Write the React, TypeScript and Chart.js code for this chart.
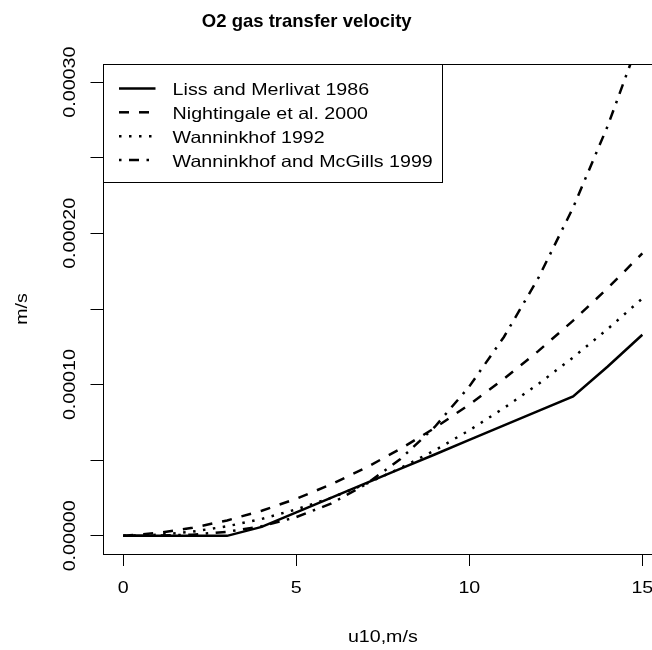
import React, { useEffect, useRef } from "react";
import { Chart, registerables } from "chart.js";

Chart.register(...registerables);

const chartTitle = "O2 gas transfer velocity";
const xAxisTitle = "u10,m/s";
const yAxisTitle = "m/s";

const windSpeed = [0, 1, 2, 3, 4, 5, 6, 7, 8, 9, 10, 11, 12, 13, 14, 15];

const lissMerlivat = [
  0, 0, 0, 0, 5.9e-6, 1.55e-5, 2.51e-5, 3.47e-5, 4.43e-5, 5.38e-5, 6.34e-5,
  7.3e-5, 8.26e-5, 9.22e-5, 1.12e-4, 1.33e-4,
];
const nightingale = [
  0, 1.9e-6, 5.3e-6, 1.02e-5, 1.66e-5, 2.45e-5, 3.4e-5, 4.49e-5, 5.74e-5,
  7.13e-5, 8.68e-5, 1.038e-4, 1.223e-4, 1.423e-4, 1.638e-4, 1.868e-4,
];
const wanninkhof92 = [
  0, 7e-7, 2.8e-6, 6.3e-6, 1.12e-5, 1.75e-5, 2.51e-5, 3.42e-5, 4.47e-5,
  5.65e-5, 6.98e-5, 8.45e-5, 1.005e-4, 1.18e-4, 1.368e-4, 1.57e-4,
];
const wanninkhofMcGills = [
  0, 1e-7, 8e-7, 2.7e-6, 6.3e-6, 1.24e-5, 2.13e-5, 3.39e-5, 5.06e-5, 7.2e-5,
  9.88e-5, 1.315e-4, 1.707e-4, 2.171e-4, 2.711e-4, 3.335e-4,
];

const seriesLabels = [
  "Liss and Merlivat 1986",
  "Nightingale et al. 2000",
  "Wanninkhof 1992",
  "Wanninkhof and McGills 1999",
];

const xTickValues = [0, 5, 10, 15];
const yTickValues = [0, 0.00005, 0.0001, 0.00015, 0.0002, 0.00025, 0.0003];
const yLabelValues = [0, 0.0001, 0.0002, 0.0003];

const FONT_FAMILY = "'Liberation Sans', Arial, Helvetica, sans-serif";
const TEXT_FONT = `16.5px ${FONT_FAMILY}`;
const TEXT_STRETCH = 1.19;

function drawText(
  ctx: CanvasRenderingContext2D,
  text: string,
  x: number,
  y: number,
  angle: number,
  font: string,
  stretch: number,
  align: CanvasTextAlign
) {
  ctx.save();
  ctx.translate(x, y);
  ctx.rotate(angle);
  ctx.scale(stretch, 1);
  ctx.font = font;
  ctx.fillStyle = "#000";
  ctx.textAlign = align;
  ctx.textBaseline = "alphabetic";
  ctx.fillText(text, 0, 0);
  ctx.restore();
}

const overlayPlugin = {
  id: "rOverlay",
  afterDraw(chart: any) {
    const { ctx, chartArea: a, scales } = chart;
    const xs = scales.x;
    const ys = scales.y;
    ctx.save();

    // plot box
    ctx.strokeStyle = "#000";
    ctx.lineWidth = 1;
    ctx.setLineDash([]);
    ctx.strokeRect(
      Math.round(a.left) + 0.5,
      Math.round(a.top) + 0.5,
      Math.round(a.right - a.left),
      Math.round(a.bottom - a.top)
    );

    // title
    drawText(ctx, chartTitle, 306.7, 26.7, 0, `bold 18.5px ${FONT_FAMILY}`, 1, "center");

    // x tick labels
    xTickValues.forEach((v) => {
      drawText(ctx, String(v), xs.getPixelForValue(v), 593, 0, TEXT_FONT, TEXT_STRETCH, "center");
    });
    // x title
    drawText(ctx, xAxisTitle, (a.left + a.right) / 2, 641.7, 0, TEXT_FONT, TEXT_STRETCH, "center");

    // y tick labels
    yLabelValues.forEach((v) => {
      drawText(ctx, v.toFixed(5), 75, ys.getPixelForValue(v), -Math.PI / 2, TEXT_FONT, TEXT_STRETCH, "center");
    });
    // y title
    drawText(ctx, yAxisTitle, 27.3, (a.top + a.bottom) / 2, -Math.PI / 2, TEXT_FONT, TEXT_STRETCH, "center");

    // legend
    const lx = Math.round(a.left) + 0.5;
    const ly = Math.round(a.top) + 0.5;
    ctx.fillStyle = "#fff";
    ctx.fillRect(lx, ly, 339, 118);
    ctx.strokeStyle = "#000";
    ctx.lineWidth = 1;
    ctx.setLineDash([]);
    ctx.strokeRect(lx, ly, 339, 118);
    chart.data.datasets.forEach((ds: any, i: number) => {
      const yy = 88.4 + i * 23.9;
      ctx.save();
      ctx.strokeStyle = ds.borderColor;
      ctx.lineWidth = ds.borderWidth;
      ctx.lineCap = "butt";
      ctx.setLineDash(ds.borderDash || []);
      ctx.beginPath();
      ctx.moveTo(119, yy);
      ctx.lineTo(155.5, yy);
      ctx.stroke();
      ctx.restore();
      drawText(ctx, ds.label, 172.6, yy + 6.6, 0, TEXT_FONT, TEXT_STRETCH, "left");
    });

    ctx.restore();
  },
};

function makeSeries(values: number[]) {
  return windSpeed.map((x, i) => ({ x, y: values[i] }));
}

export default function App() {
  const canvasRef = useRef<HTMLCanvasElement | null>(null);

  useEffect(() => {
    const canvas = canvasRef.current;
    if (!canvas) return;
    const common = {
      borderColor: "#000",
      borderWidth: 2.5,
      borderCapStyle: "butt" as const,
      pointRadius: 0,
      pointHoverRadius: 0,
      fill: false,
      tension: 0,
    };
    const chart = new Chart(canvas, {
      type: "line",
      data: {
        datasets: [
          { ...common, label: seriesLabels[0], data: makeSeries(lissMerlivat), borderDash: [] },
          { ...common, label: seriesLabels[1], data: makeSeries(nightingale), borderDash: [10, 10] },
          { ...common, label: seriesLabels[2], data: makeSeries(wanninkhof92), borderDash: [2.5, 7.5] },
          { ...common, label: seriesLabels[3], data: makeSeries(wanninkhofMcGills), borderDash: [2.5, 7.5, 10, 7.5] },
        ],
      },
      options: {
        animation: false,
        responsive: false,
        devicePixelRatio: 1,
        layout: { padding: { left: 0, right: 16.9, top: 64, bottom: 0 } },
        plugins: {
          legend: { display: false },
          title: { display: false },
          tooltip: { enabled: false },
        },
        events: [],
        scales: {
          x: {
            type: "linear",
            min: -0.6,
            max: 15.6,
            afterBuildTicks: (s: any) => {
              s.ticks = xTickValues.map((v) => ({ value: v }));
            },
            afterFit: (s: any) => {
              s.height = 96;
            },
            ticks: { display: false },
            grid: { drawOnChartArea: false, drawTicks: true, tickLength: 12, color: "#000", lineWidth: 1 },
            border: { display: false },
          },
          y: {
            type: "linear",
            min: -0.000012,
            max: 0.000312,
            afterBuildTicks: (s: any) => {
              s.ticks = yTickValues.map((v) => ({ value: v }));
            },
            afterFit: (s: any) => {
              s.width = 102.5;
            },
            ticks: { display: false },
            grid: { drawOnChartArea: false, drawTicks: true, tickLength: 12, color: "#000", lineWidth: 1 },
            border: { display: false },
          },
        },
      },
      plugins: [overlayPlugin],
    });
    return () => chart.destroy();
  }, []);

  return (
    <div
      style={{
        position: "fixed",
        left: 0,
        top: 0,
        width: 652,
        height: 650,
        overflow: "hidden",
        background: "#fff",
      }}
    >
      <canvas
        ref={canvasRef}
        width={680}
        height={650}
        style={{ display: "block", width: 680, height: 650 }}
      />
    </div>
  );
}
